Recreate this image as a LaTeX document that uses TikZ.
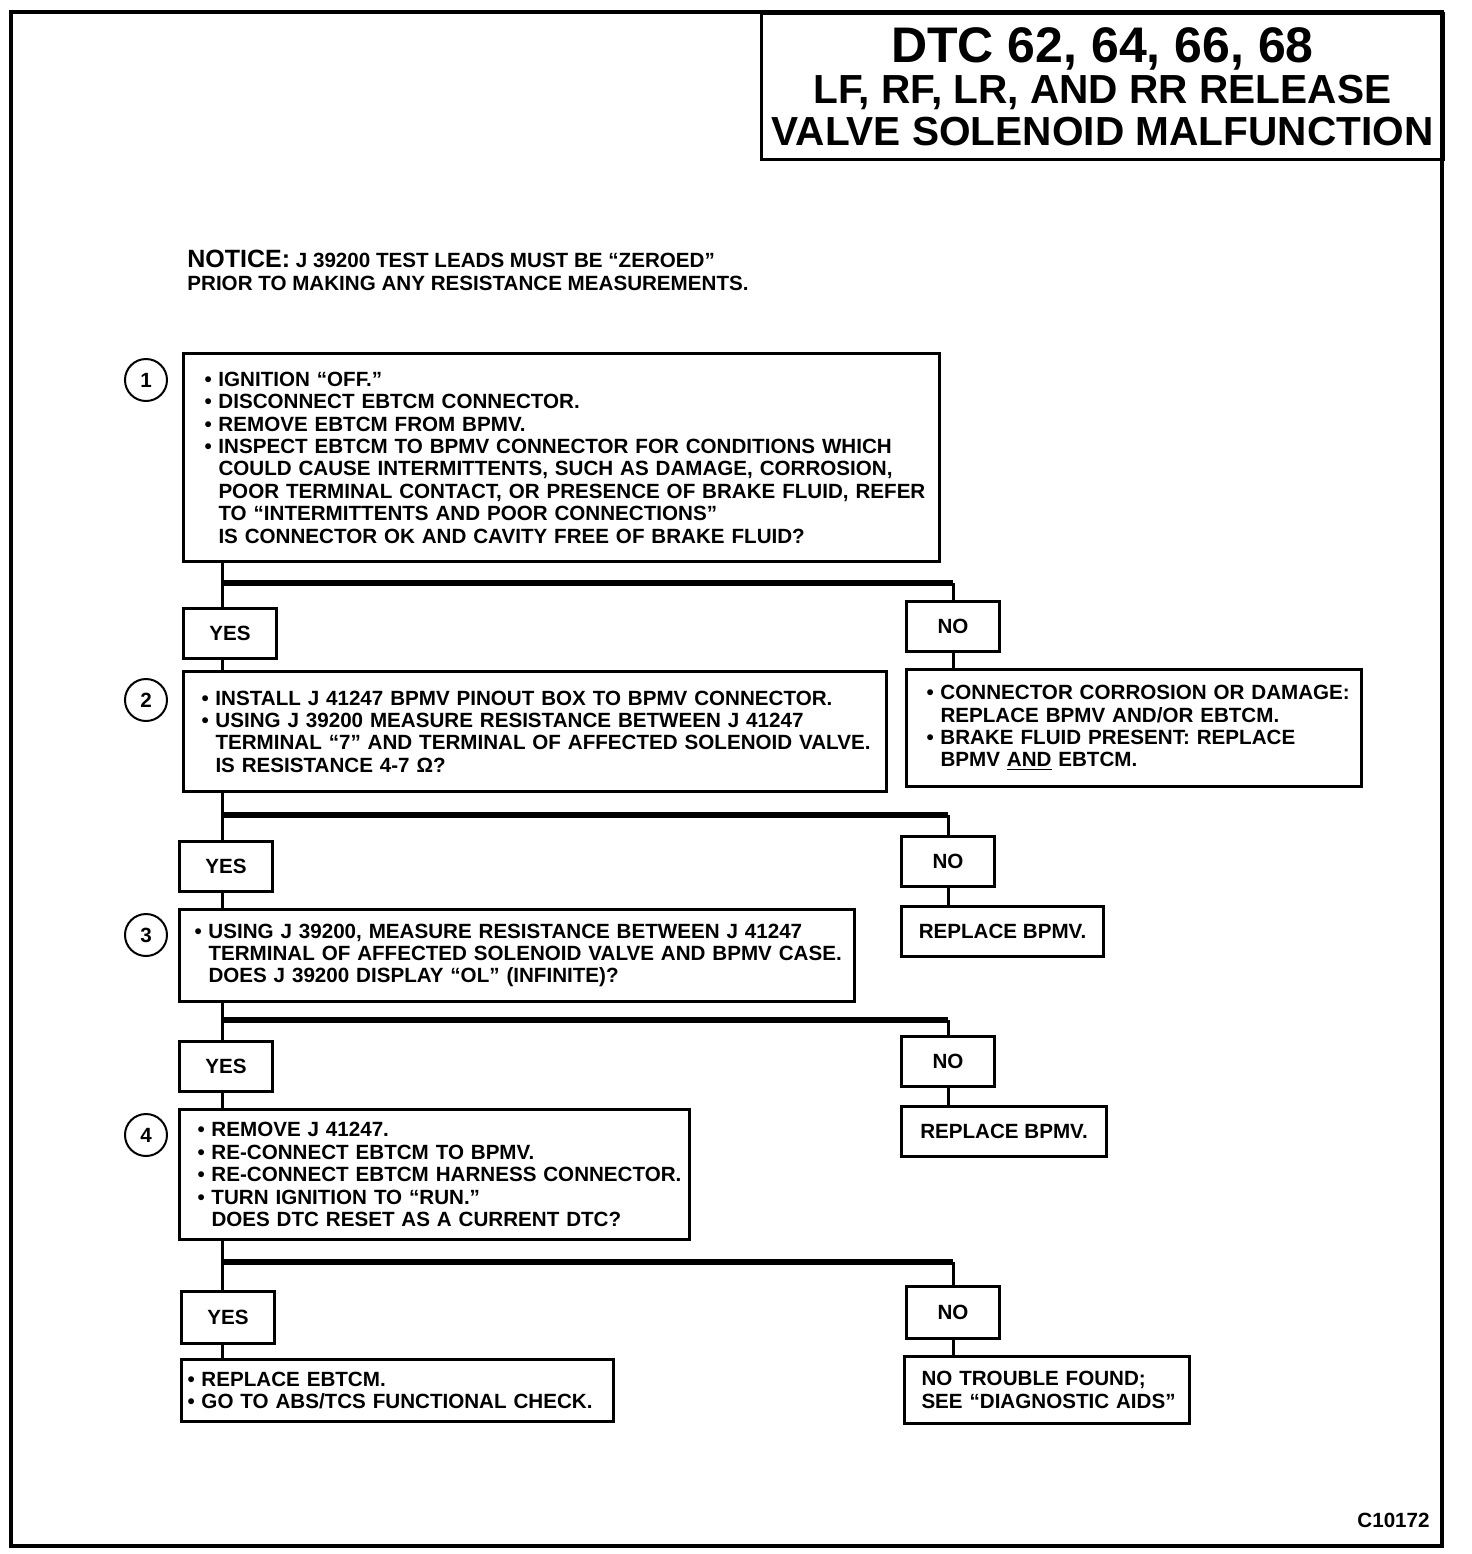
\documentclass[tikz,border=0pt]{standalone}
\usepackage{fontspec}
\setmainfont{Liberation Sans}
\newcommand\bodyfont{\bfseries\fontsize{10.3}{11.2}\selectfont}
\newcommand\bu{\makebox[7pt][l]{\textbullet}}
\newcommand\ind{\hspace*{7pt}}
\newcommand\tl[1]{\mbox{#1}}
\begin{document}
\begin{tikzpicture}[x=0.5pt,y=-0.5pt,
  every node/.style={font=\bodyfont},
  box/.style={draw, line width=1.5pt, anchor=north west, align=left, inner ysep=0pt},
  yn/.style={draw, line width=1.5pt, anchor=north west, inner sep=0pt, align=center,
             minimum width=46.5pt, minimum height=25pt},
  num/.style={draw, circle, line width=1pt, minimum size=21pt, inner sep=0pt},
  conn/.style={line width=1.5pt},
  bar/.style={line width=2.6pt},
  frame/.style={line width=2pt}
]
\useasboundingbox (0,0) rectangle (1472,1554);
% title
\node[draw, line width=1.5pt, anchor=north west, minimum width=341pt, minimum height=73pt,
      align=center, inner sep=0pt, font=\bfseries\fontsize{20.3}{20.8}\selectfont]
  (title) at (760,12)
  {{\fontsize{25}{20.8}\selectfont DTC 62, 64, 66, 68}\\LF, RF, LR, AND RR RELEASE\\VALVE SOLENOID MALFUNCTION};
\draw[frame] (11,12) rectangle (1442,1546);
% notice
\node[anchor=north west, align=left, inner sep=0pt] (notice) at (187,250)
  {\tl{{\fontsize{12.5}{11}\selectfont NOTICE:} J 39200 TEST LEADS MUST BE “ZEROED”}\\
   \tl{PRIOR TO MAKING ANY RESISTANCE MEASUREMENTS.}};
% step 1
\node[box, minimum width=378pt, minimum height=104pt, text width=357pt, inner xsep=10.5pt]
  (box1) at (182,352)
  {\tl{\bu IGNITION “OFF.”}\\
   \tl{\bu DISCONNECT EBTCM CONNECTOR.}\\
   \tl{\bu REMOVE EBTCM FROM BPMV.}\\
   \tl{\bu INSPECT EBTCM TO BPMV CONNECTOR FOR CONDITIONS WHICH}\\
   \tl{\ind COULD CAUSE INTERMITTENTS, SUCH AS DAMAGE, CORROSION,}\\
   \tl{\ind POOR TERMINAL CONTACT, OR PRESENCE OF BRAKE FLUID, REFER}\\
   \tl{\ind TO “INTERMITTENTS AND POOR CONNECTIONS”}\\
   \tl{\ind IS CONNECTOR OK AND CAVITY FREE OF BRAKE FLUID?}};
\node[num] (n1) at (146,380) {1};
\node[yn] (yes1) at (182,607) {YES};
\node[yn] (no1) at (905,600) {NO};
% step 2
\node[box, minimum width=351.5pt, minimum height=60pt, text width=333.5pt, inner xsep=9pt]
  (box2) at (182,670)
  {\tl{\bu INSTALL J 41247 BPMV PINOUT BOX TO BPMV CONNECTOR.}\\
   \tl{\bu USING J 39200 MEASURE RESISTANCE BETWEEN J 41247}\\
   \tl{\ind TERMINAL “7” AND TERMINAL OF AFFECTED SOLENOID VALVE.}\\
   \tl{\ind IS RESISTANCE 4-7 Ω?}};
\node[num] (n2) at (146,700) {2};
\node[box, minimum width=227.5pt, minimum height=58.5pt, text width=207.5pt, inner xsep=10pt]
  (res2) at (905,668)
  {\tl{\bu CONNECTOR CORROSION OR DAMAGE:}\\
   \tl{\ind REPLACE BPMV AND/OR EBTCM.}\\
   \tl{\bu BRAKE FLUID PRESENT: REPLACE}\\
   \tl{\ind BPMV \underline{AND} EBTCM.}};
\node[yn] (yes2) at (178,840) {YES};
\node[yn] (no2) at (900,835) {NO};
\node[yn, minimum width=101pt] (rep1) at (900,905) {REPLACE BPMV.};
% step 3
\node[box, minimum width=337.5pt, minimum height=46pt, text width=322.5pt, inner xsep=7.5pt]
  (box3) at (178,908)
  {\tl{\bu USING J 39200, MEASURE RESISTANCE BETWEEN J 41247}\\
   \tl{\ind TERMINAL OF AFFECTED SOLENOID VALVE AND BPMV CASE.}\\
   \tl{\ind DOES J 39200 DISPLAY “OL” (INFINITE)?}};
\node[num] (n3) at (146,935) {3};
\node[yn] (yes3) at (178,1040) {YES};
\node[yn] (no3) at (900,1035) {NO};
\node[yn, minimum width=102.5pt] (rep2) at (900,1105) {REPLACE BPMV.};
% step 4
\node[box, minimum width=255pt, minimum height=65pt, text width=237pt, inner xsep=9pt]
  (box4) at (178,1108)
  {\tl{\bu REMOVE J 41247.}\\
   \tl{\bu RE-CONNECT EBTCM TO BPMV.}\\
   \tl{\bu RE-CONNECT EBTCM HARNESS CONNECTOR.}\\
   \tl{\bu TURN IGNITION TO “RUN.”}\\
   \tl{\ind DOES DTC RESET AS A CURRENT DTC?}};
\node[num] (n4) at (146,1135) {4};
\node[yn, minimum height=26pt] (yes4) at (180,1290) {YES};
\node[yn, minimum height=26pt] (no4) at (905,1285) {NO};
\node[box, minimum width=216pt, minimum height=31pt, text width=210pt, inner xsep=3pt]
  (res4y) at (180,1358)
  {\tl{\bu REPLACE EBTCM.}\\
   \tl{\bu GO TO ABS/TCS FUNCTIONAL CHECK.}};
\node[box, minimum width=142.5pt, minimum height=33.5pt, text width=125.5pt, inner xsep=8.5pt]
  (res4n) at (903,1355)
  {\tl{NO TROUBLE FOUND;}\\
   \tl{SEE “DIAGNOSTIC AIDS”}};
\node[anchor=east, inner sep=0pt] (code) at (1430,1520) {C10172};
% junctions
\coordinate (j1) at (222,583);
\coordinate (j2) at (222,815);
\coordinate (j3) at (222,1020);
\coordinate (j4) at (222,1262);
% connectors step 1
\draw[conn] (box1.south -| j1) -- (yes1.north -| j1);
\draw[bar] (j1) -- (j1 -| no1);
\draw[conn] (j1 -| no1) -- (no1.north);
\draw[conn] (yes1.south -| j1) -- (box2.north -| j1);
\draw[conn] (no1.south) -- (no1.south |- res2.north);
% step 2
\draw[conn] (box2.south -| j2) -- (yes2.north -| j2);
\draw[bar] (j2) -- (j2 -| no2);
\draw[conn] (j2 -| no2) -- (no2.north);
\draw[conn] (yes2.south -| j2) -- (box3.north -| j2);
\draw[conn] (no2.south) -- (no2.south |- rep1.north);
% step 3
\draw[conn] (box3.south -| j3) -- (yes3.north -| j3);
\draw[bar] (j3) -- (j3 -| no3);
\draw[conn] (j3 -| no3) -- (no3.north);
\draw[conn] (yes3.south -| j3) -- (box4.north -| j3);
\draw[conn] (no3.south) -- (no3.south |- rep2.north);
% step 4
\draw[conn] (box4.south -| j4) -- (yes4.north -| j4);
\draw[bar] (j4) -- (j4 -| no4);
\draw[conn] (j4 -| no4) -- (no4.north);
\draw[conn] (yes4.south -| j4) -- (res4y.north -| j4);
\draw[conn] (no4.south) -- (no4.south |- res4n.north);
\end{tikzpicture}
\end{document}
